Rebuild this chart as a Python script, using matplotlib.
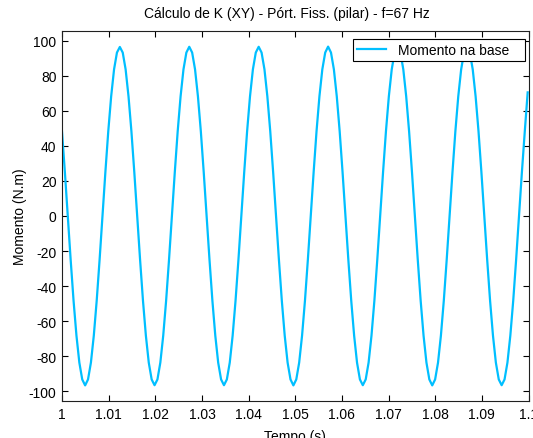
#coding:utf-8

import numpy as np
import matplotlib
matplotlib.use('Agg')
import matplotlib.pyplot as plt

# amostragem do sinal (s)
t_inicial = 1.0
passo = 0.00062

# momento na base (N.m), lido ciclo a ciclo
momento = [
	48.3, 25.0, 0.0, -25.0, -48.3, -68.2, -83.6, -93.2, -96.6, -93.2, -83.6, -68.2,
	-48.3, -25.0, 0.0, 25.0, 48.3, 68.2, 83.6, 93.2, 96.4, 93.2, 83.6, 68.2,
	48.3, 25.0, 0.0, -25.0, -48.3, -68.2, -83.6, -93.2, -96.5, -93.2, -83.6, -68.2,
	-48.3, -25.0, 0.0, 25.0, 48.3, 68.2, 83.6, 93.2, 96.5, 93.2, 83.6, 68.2,
	48.3, 25.0, 0.0, -25.0, -48.3, -68.2, -83.6, -93.2, -96.5, -93.2, -83.6, -68.2,
	-48.3, -25.0, 0.0, 25.0, 48.3, 68.2, 83.6, 93.2, 96.5, 93.2, 83.6, 68.2,
	48.3, 25.0, 0.0, -25.0, -48.3, -68.2, -83.6, -93.2, -96.6, -93.2, -83.6, -68.2,
	-48.3, -25.0, 0.0, 25.0, 48.3, 68.2, 83.6, 93.2, 96.6, 93.2, 83.6, 68.2,
	48.3, 25.0, 0.0, -25.0, -48.3, -68.2, -83.6, -93.2, -96.5, -93.2, -83.6, -68.2,
	-48.3, -25.0, 0.0, 25.0, 48.3, 68.2, 83.6, 93.2, 96.5, 93.2, 83.6, 68.2,
	48.3, 25.0, 0.0, -25.0, -48.3, -68.2, -83.6, -93.2, -96.6, -93.2, -83.6, -68.2,
	-48.3, -25.0, 0.0, 25.0, 48.3, 68.2, 83.6, 93.2, 96.5, 93.2, 83.6, 68.2,
	48.3, 25.0, 0.0, -25.0, -48.3, -68.2, -83.6, -93.2, -96.5, -93.2, -83.6, -68.2,
	-48.3, -25.0, 0.0, 25.0, 48.3, 70.5,
]

xticks = [1.0, 1.01, 1.02, 1.03, 1.04, 1.05, 1.06, 1.07, 1.08, 1.09, 1.1]
xticklabels = ['1', '1.01', '1.02', '1.03', '1.04', '1.05', '1.06', '1.07', '1.08', '1.09', '1.1']
yticks = [-100, -80, -60, -40, -20, 0, 20, 40, 60, 80, 100]

titulo = u'Cálculo de K (XY) - Pórt. Fiss. (pilar) - f=67 Hz'
legenda = 'Momento na base'

plt.rcParams['font.family'] = ['Liberation Sans', 'DejaVu Sans']
plt.rcParams['font.size'] = 10
plt.rcParams['axes.unicode_minus'] = False

tempo = t_inicial + passo * np.arange(len(momento))

fig = plt.figure(figsize=(5.33, 4.39), dpi=100)
ax = fig.add_axes([0.1163, 0.0843, 0.8753, 0.8428])

# espacos no fim so para alargar a caixa da legenda como no matlab
ax.plot(tempo, momento, color='#00BFFF', lw=1.6, label=legenda + '   ')

ax.set_xlim(1.0, 1.1)
ax.set_ylim(-105.5, 105.5)
ax.set_xticks(xticks)
ax.set_xticklabels(xticklabels)
ax.set_yticks(yticks)
ax.tick_params(direction='in', length=4, width=0.8, top=True, right=True, pad=4, colors='black')
for s in ax.spines.values():
	s.set_linewidth(0.8)
	s.set_color('#202020')

ax.set_title(titulo, fontsize=10, pad=10, x=0.483)
ax.set_xlabel('Tempo (s)', labelpad=6)
ax.set_ylabel('Momento (N.m)', labelpad=1.5)

leg = ax.legend(loc='upper right', bbox_to_anchor=(0.9925, 0.978), borderaxespad=0,
	fancybox=False, framealpha=1, edgecolor='black', handlelength=2.1,
	handletextpad=0.85, borderpad=0.3)
leg.get_frame().set_linewidth(0.8)

plt.savefig('out.png', dpi=100)
